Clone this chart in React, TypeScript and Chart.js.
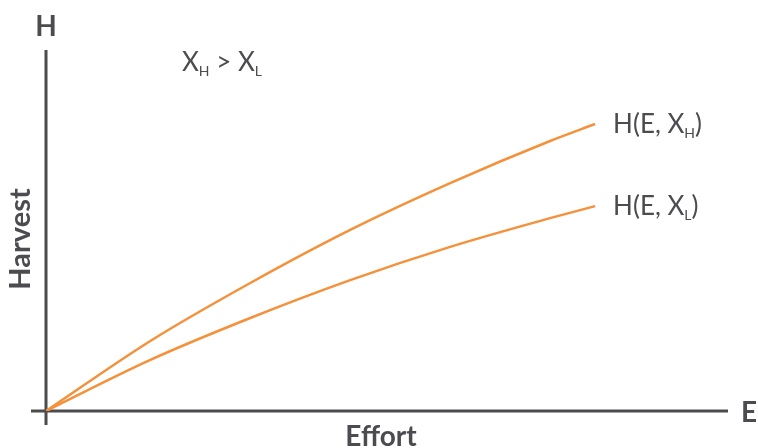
import React, { useEffect, useRef } from "react";
import { Chart, registerables } from "chart.js";

Chart.register(...registerables);

const effort = [0, 1.9, 3.72, 5.54, 7.36, 9.18, 10];
const harvestHigh = [0, 2.44, 4.46, 6.31, 7.94, 9.41, 10];
const harvestLow = [0, 1.78, 3.24, 4.56, 5.72, 6.72, 7.14];
const seriesLabels = ["H(E, X_H)", "H(E, X_L)"];
const xAxisTitle = "Effort";
const yAxisTitle = "Harvest";
const xAxisLetter = "E";
const yAxisLetter = "H";

const ORANGE = "#f4913a";
const DARK = "#4b4b50";
const FONT = "Lato, 'Open Sans', sans-serif";

function drawSub(ctx: CanvasRenderingContext2D, x: number, y: number, parts: [string, boolean][], size: number) {
  let cx = x;
  for (const [t, sub] of parts) {
    ctx.font = sub ? `400 ${Math.round(size * 0.55)}px ${FONT}` : `400 ${size}px ${FONT}`;
    ctx.fillText(t, cx, sub ? y + size * 0.34 : y);
    cx += ctx.measureText(t).width;
  }
}

const overlay = {
  id: "overlay",
  beforeDatasetsDraw(chart: any) {
    const { ctx } = chart;
    const xs = chart.scales.x;
    const ys = chart.scales.y;
    const x0 = xs.getPixelForValue(0);
    const y0 = ys.getPixelForValue(0);
    ctx.save();
    ctx.strokeStyle = DARK;
    ctx.lineWidth = 3;
    ctx.beginPath();
    ctx.moveTo(x0 - 15, y0);
    ctx.lineTo(xs.right, y0);
    ctx.moveTo(x0, ys.top);
    ctx.lineTo(x0, y0 + 14);
    ctx.stroke();
    ctx.restore();
  },
  afterDraw(chart: any) {
    const { ctx } = chart;
    const xs = chart.scales.x;
    const ys = chart.scales.y;
    const x0 = xs.getPixelForValue(0);
    const y0 = ys.getPixelForValue(0);
    ctx.save();
    ctx.fillStyle = DARK;
    ctx.textBaseline = "middle";
    ctx.font = `700 28px ${FONT}`;
    ctx.textAlign = "center";
    ctx.fillText(yAxisLetter, x0, 27);
    ctx.fillText(xAxisTitle, 381, 437);
    ctx.textAlign = "left";
    ctx.fillText(xAxisLetter, xs.right + 13, y0 + 2);
    ctx.save();
    ctx.translate(21, 239);
    ctx.rotate(-Math.PI / 2);
    ctx.textAlign = "center";
    ctx.font = `700 29px ${FONT}`;
    ctx.fillText(yAxisTitle, 0, 0);
    ctx.restore();

    ctx.textAlign = "left";
    drawSub(ctx, 182, 63, [["X", false], ["H", true], [" > X", false], ["L", true]], 26);

    const lastX = xs.getPixelForValue(effort[effort.length - 1]) + 18;
    const yH = ys.getPixelForValue(harvestHigh[harvestHigh.length - 1]);
    const yL = ys.getPixelForValue(harvestLow[harvestLow.length - 1]);
    drawSub(ctx, lastX, yH + 1, [["H(E, X", false], ["H", true], [")", false]], 26);
    drawSub(ctx, lastX, yL + 1, [["H(E, X", false], ["L", true], [")", false]], 26);
    ctx.restore();
  },
};

export default function App() {
  const ref = useRef<HTMLCanvasElement | null>(null);
  useEffect(() => {
    if (!ref.current) return;
    const chart = new Chart(ref.current, {
      type: "line",
      data: {
        datasets: [
          {
            label: seriesLabels[0],
            data: effort.map((e, i) => ({ x: e, y: harvestHigh[i] })),
            borderColor: ORANGE,
            borderWidth: 2.5,
            pointRadius: 0,
            cubicInterpolationMode: "monotone",
            fill: false,
          },
          {
            label: seriesLabels[1],
            data: effort.map((e, i) => ({ x: e, y: harvestLow[i] })),
            borderColor: ORANGE,
            borderWidth: 2.5,
            pointRadius: 0,
            cubicInterpolationMode: "monotone",
            fill: false,
          },
        ],
      },
      options: {
        animation: false,
        responsive: false,
        maintainAspectRatio: false,
        layout: { padding: { left: 46, right: 30, top: 50, bottom: 37 } },
        plugins: { legend: { display: false }, tooltip: { enabled: false } },
        scales: {
          x: { type: "linear", min: 0, max: 12.42, display: false },
          y: { type: "linear", min: 0, max: 12.58, display: false },
        },
      },
      plugins: [overlay],
    } as any);
    return () => chart.destroy();
  }, []);
  return (
    <div style={{ position: "fixed", left: 0, top: 0, width: 758, height: 448, background: "#fff" }}>
      <canvas ref={ref} width={758} height={448} style={{ display: "block", width: 758, height: 448 }} />
    </div>
  );
}
